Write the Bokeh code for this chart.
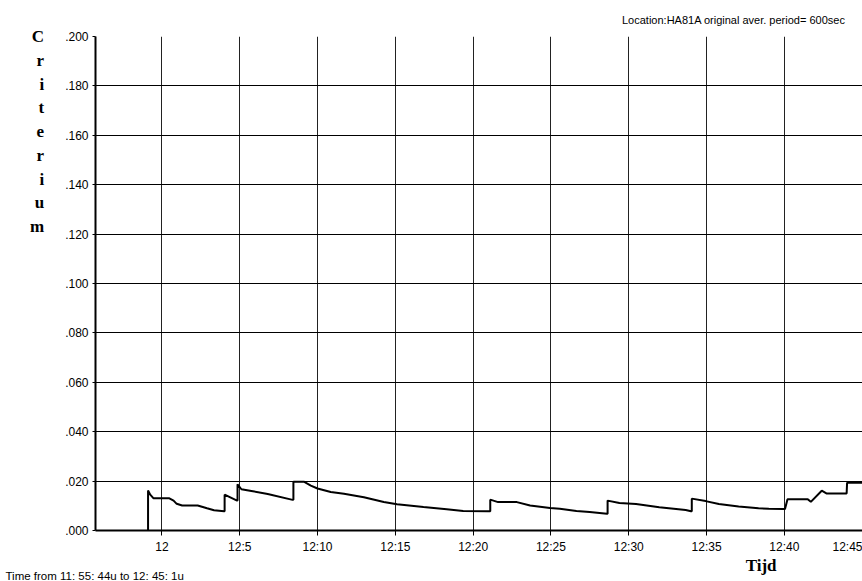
from bokeh.plotting import figure
from bokeh.models import Title, FixedTicker, Range1d
from bokeh.embed import file_html
from bokeh.resources import INLINE

# ---- data (minutes relative to 12:00, criterium value) ----
t_min = [-0.89, -0.89, -0.75, -0.55, 0.45, 0.75, 0.95, 1.30, 2.30, 2.90, 3.35, 4.00,
         4.03, 4.03, 4.83, 4.86, 4.86, 5.11, 5.75, 6.80, 8.40, 8.45, 8.45, 9.15, 9.57,
         10.00, 10.85, 11.70, 12.98, 14.26, 15.11, 16.81, 18.30, 19.36, 20.96, 21.10,
         21.10, 21.60, 22.81, 23.66, 24.94, 25.57, 26.64, 27.49, 28.60, 28.64, 28.64,
         29.40, 30.47, 31.96, 33.66, 34.00, 34.05, 34.05, 34.94, 35.79, 37.06, 38.34,
         39.00, 39.90, 40.04, 40.20, 41.50, 41.70, 42.40, 42.70, 44.00, 44.03, 45.02]
crit = [0.0000, 0.0162, 0.0145, 0.0131, 0.0131, 0.0121, 0.0108, 0.0101, 0.0101, 0.0090,
        0.0082, 0.0078, 0.0078, 0.0145, 0.0121, 0.0121, 0.0187, 0.0167, 0.0160, 0.0148,
        0.0124, 0.0124, 0.0197, 0.0197, 0.0182, 0.0170, 0.0156, 0.0149, 0.0135, 0.0115,
        0.0106, 0.0095, 0.0086, 0.0079, 0.0078, 0.0078, 0.0125, 0.0115, 0.0115, 0.0101,
        0.0091, 0.0088, 0.0079, 0.0075, 0.0068, 0.0068, 0.0121, 0.0111, 0.0107, 0.0094,
        0.0083, 0.0078, 0.0078, 0.0129, 0.0119, 0.0107, 0.0097, 0.0090, 0.0088, 0.0087,
        0.0087, 0.0127, 0.0127, 0.0116, 0.0161, 0.0150, 0.0150, 0.0193, 0.0193]

x_ticks = [0, 5, 10, 15, 20, 25, 30, 35, 40, 45]
x_tick_labels = ["12", "12:5", "12:10", "12:15", "12:20", "12:25", "12:30", "12:35", "12:40", "12:45"]
y_ticks = [0.0, 0.02, 0.04, 0.06, 0.08, 0.10, 0.12, 0.14, 0.16, 0.18, 0.20]
y_tick_labels = [".000", ".020", ".040", ".060", ".080", ".100", ".120", ".140", ".160", ".180", ".200"]

title_text = "Location:HA81A original aver. period= 600sec"
footer_text = "Time from  11: 55: 44u to  12: 45: 1u"
x_label = "Tijd"
y_label = "Criterium"

# ---- layout ----
X0, X1 = -4.267, 45.02       # 11:55:44 .. 12:45:01
Y0, Y1 = 0.0, 0.2
W, H = 862, 581
LEFT, TOP, BOTTOM = 95, 35, 51

p = figure(width=W, height=H, output_backend="svg", toolbar_location=None,
           x_range=Range1d(X0, X1), y_range=Range1d(Y0, Y1),
           min_border_left=LEFT, min_border_right=0, min_border_top=TOP,
           min_border_bottom=BOTTOM)
p.outline_line_color = None
p.background_fill_color = "white"
p.border_fill_color = "white"

tick_font = "Liberation Sans"

xa = p.xaxis[0]
xa.ticker = FixedTicker(ticks=x_ticks)
xa.major_label_overrides = {t: l for t, l in zip(x_ticks, x_tick_labels)}
xa.major_label_text_align = "right"
xa.major_label_text_font = tick_font
xa.major_label_text_font_size = "12px"
xa.major_label_text_color = "black"
xa.major_label_standoff = 4
xa.major_tick_out = 5
xa.major_tick_in = 0
xa.minor_tick_line_color = None
xa.axis_line_width = 2
xa.axis_line_color = "black"
xa.major_tick_line_color = "black"

ya = p.yaxis[0]
ya.ticker = FixedTicker(ticks=y_ticks)
ya.major_label_overrides = {t: l for t, l in zip(y_ticks, y_tick_labels)}
ya.major_label_text_baseline = "top"
ya.major_label_text_font = tick_font
ya.major_label_text_font_size = "12px"
ya.major_label_text_color = "black"
ya.major_label_standoff = 4
ya.major_tick_out = 3
ya.major_tick_in = 0
ya.minor_tick_line_color = None
ya.axis_line_width = 2
ya.axis_line_color = "black"
ya.major_tick_line_color = "black"

# stacked vertical axis title, anchored at the top end of the axis
ya.axis_label = "\n" * 8 + "\n".join(y_label)
ya.axis_label_orientation = "horizontal"
ya.axis_label_text_font = "Liberation Serif"
ya.axis_label_text_font_style = "bold"
ya.axis_label_text_font_size = "17px"
ya.axis_label_text_line_height = 1.25
ya.axis_label_text_color = "black"
ya.axis_label_standoff = 18
if "axis_label_align" in ya.properties():
    ya.axis_label_align = "end"

p.xgrid.ticker = FixedTicker(ticks=x_ticks)
p.ygrid.ticker = FixedTicker(ticks=y_ticks)
p.xgrid.grid_line_color = "#222222"
p.ygrid.grid_line_color = "black"
p.xgrid.grid_line_width = 1
p.ygrid.grid_line_width = 1

p.line(t_min, crit, line_color="black", line_width=2)

# ---- texts in side panels ----
p.add_layout(Title(text=title_text, align="right", offset=17, standoff=22,
                   text_font="Liberation Sans", text_font_size="11px",
                   text_font_style="normal", text_color="black"), "above")
p.add_layout(Title(text=x_label, align="right", offset=86, standoff=-6,
                   text_font="Liberation Serif", text_font_size="17px",
                   text_font_style="bold", text_color="black"), "below")
p.add_layout(Title(text=footer_text, align="left", offset=-90, standoff=-8,
                   text_font="Liberation Sans", text_font_size="11.5px",
                   text_font_style="normal", text_color="black"), "below")

open("out.html", "w").write(file_html(p, INLINE))
